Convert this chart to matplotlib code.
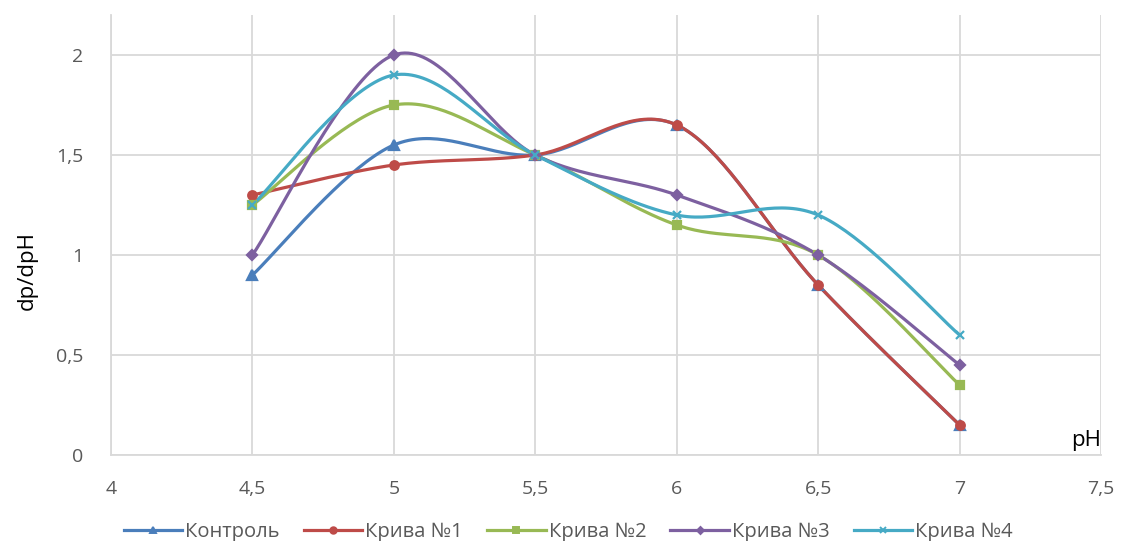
import numpy as np
import matplotlib
matplotlib.use("Agg")
import matplotlib.pyplot as plt
from matplotlib.ticker import FuncFormatter

ph = [4.5, 5, 5.5, 6, 6.5, 7]
kontrol = [0.9, 1.55, 1.5, 1.65, 0.85, 0.15]
kryva1 = [1.3, 1.45, 1.5, 1.65, 0.85, 0.15]
kryva2 = [1.25, 1.75, 1.5, 1.15, 1.0, 0.35]
kryva3 = [1.0, 2.0, 1.5, 1.3, 1.0, 0.45]
kryva4 = [1.25, 1.9, 1.5, 1.2, 1.2, 0.6]
names = ["Контроль", "Крива №1", "Крива №2", "Крива №3", "Крива №4"]
series = [kontrol, kryva1, kryva2, kryva3, kryva4]
colors = ["#4A7EBB", "#BE4B48", "#98B954", "#7D60A0", "#46AAC5"]
markers = ["^", "o", "s", "D", "x"]
msizes = [6.5, 6.2, 6.2, 4.8, 6.2]

plt.rcParams['font.family'] = ['Open Sans', 'DejaVu Sans']

fig = plt.figure(figsize=(11.21, 5.41), dpi=100)
ax = fig.add_axes([111/1121, 1-455/541, (1101-111)/1121, (455-15)/541])
ax.set_xlim(4, 7.5)
ax.set_ylim(0, 2.2)

sx = 990/3.5
sy = 440/2.2

def smooth(xs, ys, n=40):
    X = np.array(xs) * sx
    Y = np.array(ys) * sy
    P = np.column_stack([X, Y])
    out = []
    m = len(P)
    for i in range(m-1):
        p0 = P[i-1] if i > 0 else P[i]
        p1 = P[i]
        p2 = P[i+1]
        p3 = P[i+2] if i+2 < m else P[i+1]
        c1 = p1 + (p2 - p0)/6
        c2 = p2 - (p3 - p1)/6
        t = np.linspace(0, 1, n)[:, None]
        seg = (1-t)**3*p1 + 3*(1-t)**2*t*c1 + 3*(1-t)*t**2*c2 + t**3*p2
        out.append(seg if i == 0 else seg[1:])
    out = np.vstack(out)
    return out[:, 0]/sx, out[:, 1]/sy

handles = []
for ys, nm, c, mk, ms in zip(series, names, colors, markers, msizes):
    xs_s, ys_s = smooth(ph, ys)
    ax.plot(xs_s, ys_s, color=c, lw=2.3, zorder=3, solid_capstyle='round')
    ax.plot(ph, ys, linestyle='none', marker=mk, color=c, ms=ms, mew=1.6, zorder=4)
    h, = ax.plot([], [], color=c, lw=2.3, marker=mk, ms=ms*0.75, mew=1.4)
    handles.append(h)

ax.set_xticks([4, 4.5, 5, 5.5, 6, 6.5, 7, 7.5])
ax.set_yticks([0, 0.5, 1, 1.5, 2])
fmt = FuncFormatter(lambda v, p: ('%g' % v).replace('.', ','))
ax.xaxis.set_major_formatter(fmt)
ax.yaxis.set_major_formatter(fmt)
ax.grid(True, color='#D9D9D9', lw=1.3)
ax.set_axisbelow(True)
for s in ['top', 'right']:
    ax.spines[s].set_visible(False)
for s in ['left', 'bottom']:
    ax.spines[s].set_color('#D9D9D9')
    ax.spines[s].set_linewidth(1.3)
ax.tick_params(length=0, labelsize=14, labelcolor='#595959')
ax.tick_params(axis='x', pad=18)
ax.tick_params(axis='y', pad=20)

ax.set_ylabel('dp/dpH', fontsize=16, color='#000000')
ax.yaxis.set_label_coords(-0.074, 0.42)
ax.text(7.5, 0.02, 'pH', fontsize=16, ha='right', va='bottom', color='#000000')

fig.legend(handles, names, loc='lower center', bbox_to_anchor=(0.507, -0.035), ncol=5,
           frameon=False, fontsize=14.5, handlelength=2.9, columnspacing=1.2,
           handletextpad=0.15, labelcolor='#595959')

fig.savefig('out.png', dpi=100)
